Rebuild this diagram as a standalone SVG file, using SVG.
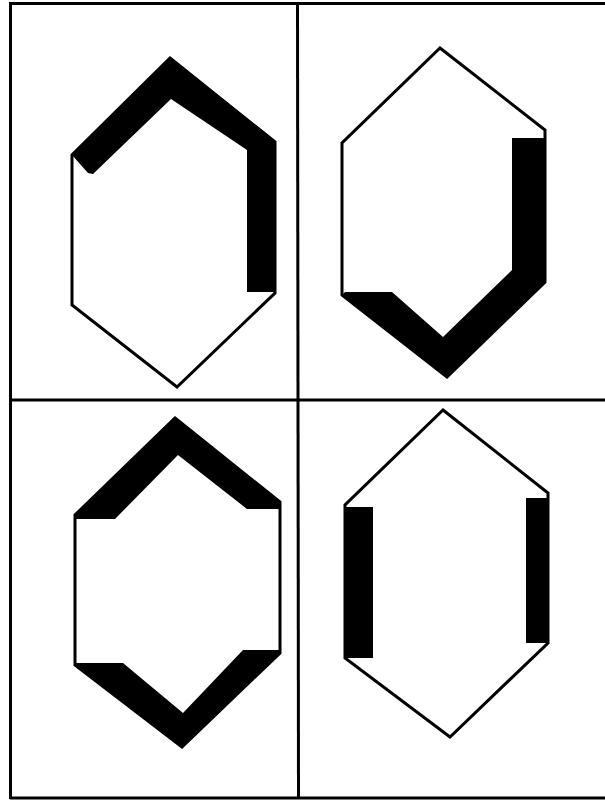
<svg xmlns="http://www.w3.org/2000/svg" width="605" height="800" viewBox="0 0 605 800">
<style>
.frame{fill:none;stroke:#000;stroke-width:3}
.hex{fill:none;stroke:#000;stroke-width:3;stroke-linejoin:miter}
.band{fill:#000;stroke:none}
</style>
<rect x="0" y="0" width="605" height="800" fill="#fff"/>
<g id="grid">
<line class="frame" x1="10" y1="3.5" x2="605" y2="3.5"/>
<line class="frame" x1="10.5" y1="2" x2="10.5" y2="799"/>
<line class="frame" x1="10" y1="798" x2="605" y2="798"/>
<line class="frame" x1="297.5" y1="2" x2="298.5" y2="799"/>
<line class="frame" x1="10" y1="400" x2="605" y2="400"/>
</g>
<g id="hex1">
<polygon class="hex" points="170,58 275,142 275,293 177,387 72,305 72,155"/>
<polygon class="band" points="72,155 170,57 276,141 276,292 247,292 247,150 171,99 93,174 88,173"/>
</g>
<g id="hex2">
<polygon class="hex" points="440,48 545,130 545,282 447,377 342,295 342,143"/>
<polygon class="band" points="512,138 545,138 546,282 447,378 342,295 345,292 392,292 443,337 512,270"/>
</g>
<g id="hex3">
<polygon class="hex" points="175,418 280,502 280,653 182,747 75,665 75,515"/>
<polygon class="band" points="75,515 175,417 281,502 281,509 247,509 178,455 115,519 75,519"/>
<polygon class="band" points="75,663 123,663 183,713 243,650 281,650 281,653 182,748 75,665"/>
</g>
<g id="hex4">
<polygon class="hex" points="443,410 548,493 548,643 450,737 345,658 345,505"/>
<rect class="band" x="344" y="507" width="29" height="151"/>
<rect class="band" x="526" y="498" width="23" height="145"/>
</g>
</svg>
